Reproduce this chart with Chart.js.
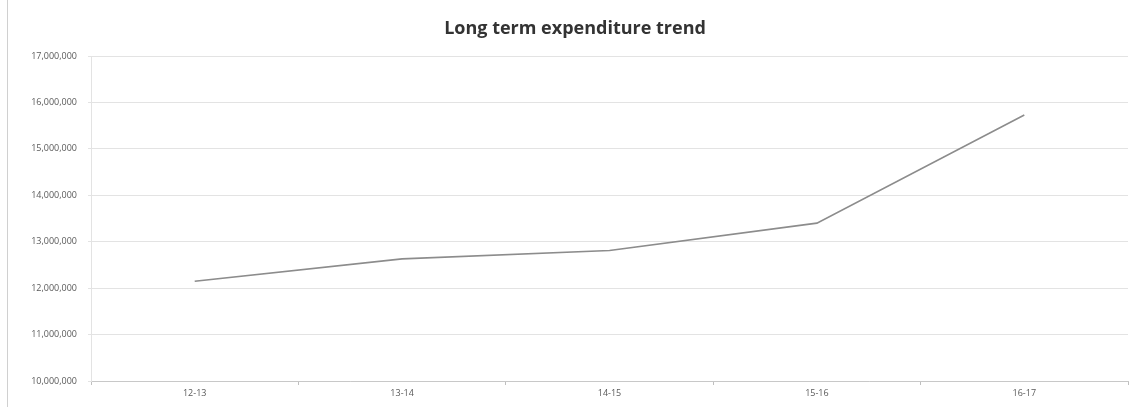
<!DOCTYPE html>
<html>
<head>
<meta charset="utf-8">
<script src="https://cdn.jsdelivr.net/npm/chart.js@4/dist/chart.umd.min.js"></script>
<style>
  html, body { margin: 0; padding: 0; background: #ffffff; }
  #wrap { position: relative; width: 1132px; height: 407px; }
  #edge { position: absolute; left: 7px; top: 0; width: 1px; height: 407px; background: #d0d0d0; }
  canvas { display: block; }
</style>
</head>
<body>
<div id="wrap">
  <canvas id="c" width="1132" height="407"></canvas>
  <div id="edge"></div>
</div>
<script>
const chartTitle = "Long term expenditure trend";
const categories = ["12-13", "13-14", "14-15", "15-16", "16-17"];
const expenditure = [12150000, 12630000, 12810000, 13400000, 15730000];
const yMin = 10000000;
const yMax = 17000000;
const yStep = 1000000;

const titlePlugin = {
  id: 'customTitle',
  afterDraw(chart) {
    const ctx = chart.ctx;
    ctx.save();
    ctx.font = 'bold 18px "Open Sans", "DejaVu Sans", sans-serif';
    ctx.fillStyle = '#333333';
    ctx.textAlign = 'center';
    ctx.textBaseline = 'middle';
    ctx.fillText(chartTitle, 575, 29);
    ctx.restore();
  }
};

new Chart(document.getElementById('c'), {
  type: 'line',
  data: {
    labels: categories,
    datasets: [{
      data: expenditure,
      borderColor: '#8c8c8c',
      borderWidth: 1.6,
      pointRadius: 0,
      fill: false,
      tension: 0
    }]
  },
  options: {
    responsive: false,
    animation: false,
    layout: { padding: { top: 56, right: 4, left: 0, bottom: 0 } },
    plugins: { legend: { display: false }, title: { display: false }, tooltip: { enabled: false } },
    scales: {
      x: {
        offset: true,
        grid: { offset: true, drawOnChartArea: false, drawTicks: true, tickLength: 4, color: '#bfbfbf' },
        border: { color: '#c8c8c8', width: 1 },
        ticks: { color: '#595959', font: { family: '"Open Sans", "DejaVu Sans", sans-serif', size: 9 }, padding: 3, maxRotation: 0 },
        afterFit(scale) { scale.height = 26; }
      },
      y: {
        min: yMin,
        max: yMax,
        grid: { color: '#e3e3e3', lineWidth: 1, drawTicks: true, tickLength: 3 },
        border: { color: '#e3e3e3', width: 1 },
        ticks: {
          stepSize: yStep,
          color: '#595959',
          padding: 11,
          font: { family: '"Open Sans", "DejaVu Sans", sans-serif', size: 9 },
          callback: (v) => v.toLocaleString('en-US')
        },
        afterFit(scale) { scale.width = 91; }
      }
    }
  },
  plugins: [titlePlugin]
});
</script>
</body>
</html>
